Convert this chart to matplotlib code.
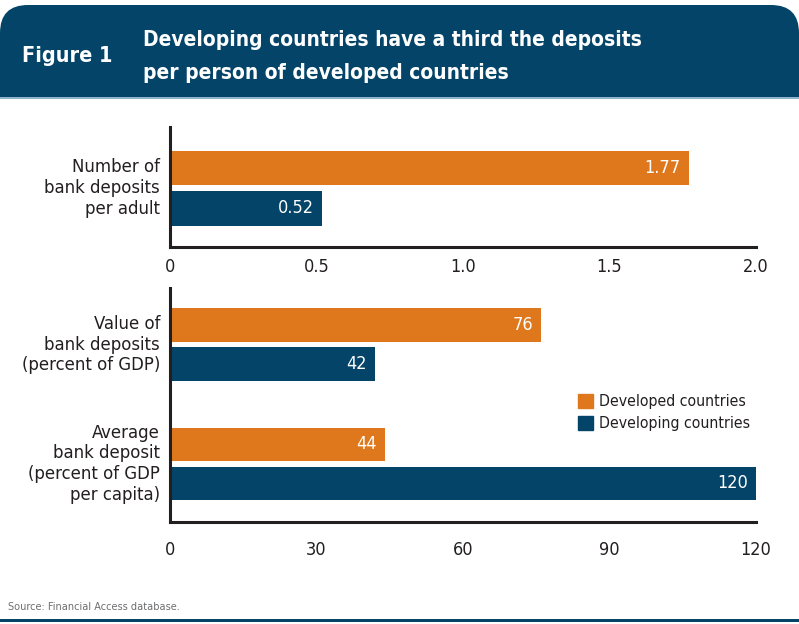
import matplotlib.pyplot as plt
from matplotlib.patches import FancyBboxPatch, Rectangle, Patch

# values
top_labels = ["Number of\nbank deposits\nper adult"]
top_developed = [1.77]
top_developing = [0.52]
top_ticks = [0, 0.5, 1.0, 1.5, 2.0]
top_ticklabels = ["0", "0.5", "1.0", "1.5", "2.0"]

bottom_labels = ["Value of\nbank deposits\n(percent of GDP)",
                 "Average\nbank deposit\n(percent of GDP\nper capita)"]
bottom_developed = [76, 44]
bottom_developing = [42, 120]
bottom_ticks = [0, 30, 60, 90, 120]

title_lines = ["Developing countries have a third the deposits",
               "per person of developed countries"]

ORANGE = "#df781d"
BLUE = "#034468"
INK = "#231f20"
FONT = "DejaVu Sans"
STRETCH = "condensed"

fig = plt.figure(figsize=(7.99, 6.24), dpi=100)

# pixel-space canvas for header and rules
bg = fig.add_axes([0, 0, 1, 1], zorder=-1)
bg.set_xlim(0, 799)
bg.set_ylim(624, 0)
bg.axis("off")
bg.add_patch(FancyBboxPatch((0, 5), 799, 92, boxstyle="round,pad=0,rounding_size=28",
                            fc=BLUE, ec="none"))
bg.add_patch(Rectangle((0, 50), 799, 47, fc=BLUE, ec="none"))
bg.add_patch(Rectangle((0, 97), 799, 2, fc="#8fb5cc", ec="none"))
bg.add_patch(Rectangle((0, 619), 799, 3, fc=BLUE, ec="none"))
bg.text(22, 62, "Figure 1", color="white", fontsize=15.5, fontweight="bold",
        family=FONT, fontstretch=STRETCH, va="baseline", ha="left")
for yb, line in zip((46, 79), title_lines):
    bg.text(143, yb, line, color="white", fontsize=15, fontweight="bold", family=FONT,
            fontstretch=STRETCH, va="baseline", ha="left")
bg.text(8, 607, "Source: Financial Access database.", color="#6d6e71", fontsize=7.8,
        family=FONT, fontstretch=STRETCH, va="center", ha="left")


def style_axis(ax, ticks, ticklabels, xmax, pad):
    ax.set_xlim(0, xmax)
    ax.set_xticks(ticks)
    ax.set_xticklabels(ticklabels, fontsize=13, color=INK, family=FONT, fontstretch=STRETCH)
    ax.tick_params(axis="x", length=0, pad=pad)
    ax.set_yticks([])
    for s in ("top", "right"):
        ax.spines[s].set_visible(False)
    for s in ("left", "bottom"):
        ax.spines[s].set_linewidth(2.2)
        ax.spines[s].set_color(INK)


def draw_group(ax, y0, dev, dvg, label, xmax, fmt):
    h = 0.85
    ax.barh(y0, dev, height=h, color=ORANGE)
    ax.barh(y0 + 1, dvg, height=h, color=BLUE)
    off = xmax * 0.014
    for y, v in ((y0, dev), (y0 + 1, dvg)):
        ax.text(v - off, y, fmt(v), color="white", fontsize=13, family=FONT,
                fontstretch=STRETCH, ha="right", va="center")
    ax.text(-xmax * 0.017, y0 + 0.5, label, ha="right", va="center", fontsize=13.2,
            color=INK, family=FONT, fontstretch=STRETCH, linespacing=1.2)


# top panel
ax1 = fig.add_axes([170 / 799, 1 - 247 / 624, 586 / 799, 120 / 624])
style_axis(ax1, top_ticks, top_ticklabels, 2.0, 8)
ax1.set_ylim(1.95, -1.01)
for i, lab in enumerate(top_labels):
    draw_group(ax1, i * 3, top_developed[i], top_developing[i], lab, 2.0,
               lambda v: f"{v:.2f}")

# bottom panel
ax2 = fig.add_axes([170 / 799, 1 - 522 / 624, 586 / 799, 234 / 624])
style_axis(ax2, bottom_ticks, [str(t) for t in bottom_ticks], 120, 14)
ax2.set_ylim(5.05, -0.95)
gap = 3.06
for i, lab in enumerate(bottom_labels):
    draw_group(ax2, i * gap, bottom_developed[i], bottom_developing[i], lab, 120,
               lambda v: f"{v:d}")

handles = [Patch(color=ORANGE, label="Developed countries"),
           Patch(color=BLUE, label="Developing countries")]
leg = ax2.legend(handles=handles, loc="upper left", bbox_to_anchor=(408 / 586, 1 - 106 / 234),
                 frameon=False, handlelength=0.95, handleheight=0.95, handletextpad=0.4,
                 labelspacing=0.45, borderaxespad=0, borderpad=0,
                 prop={"family": FONT, "stretch": STRETCH, "size": 11.3})
for t in leg.get_texts():
    t.set_color(INK)

fig.savefig("out.png", dpi=100)
